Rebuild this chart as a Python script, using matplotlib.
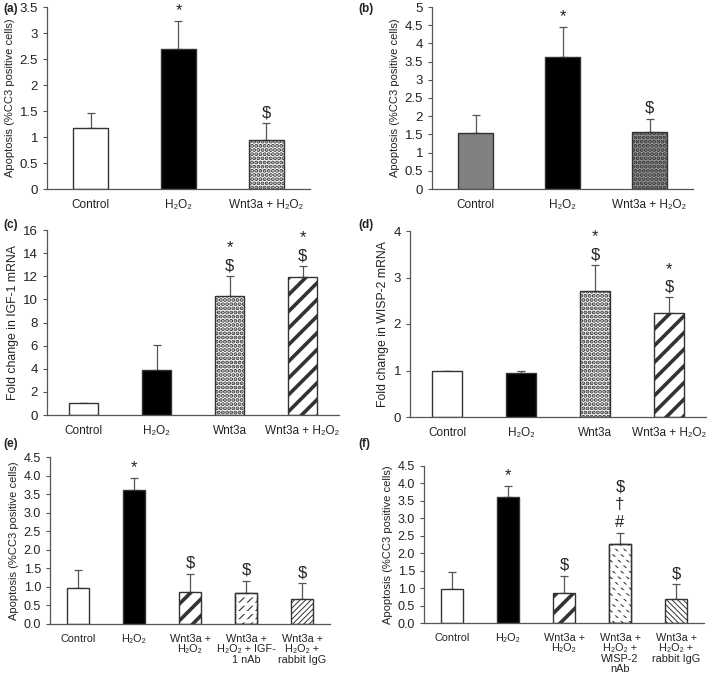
import matplotlib
matplotlib.use("Agg")
import matplotlib.pyplot as plt

plt.rcParams['font.family'] = ['Liberation Sans', 'DejaVu Sans']

H2O2 = 'H\u2082O\u2082'

# (a)
a_cats = ['Control', H2O2, 'Wnt3a + ' + H2O2]
a_mean = [1.17, 2.70, 0.95]
a_err = [0.29, 0.54, 0.32]
a_marks = ['', '*', '$']

# (b)
b_cats = ['Control', H2O2, 'Wnt3a + ' + H2O2]
b_mean = [1.55, 3.62, 1.57]
b_err = [0.48, 0.83, 0.36]
b_marks = ['', '*', '$']

# (c)
c_cats = ['Control', H2O2, 'Wnt3a', 'Wnt3a + ' + H2O2]
c_mean = [1.0, 3.85, 10.25, 11.95]
c_err = [0.0, 2.2, 1.75, 0.95]
c_marks = ['', '', '*\n$', '*\n$']

# (d)
d_cats = ['Control', H2O2, 'Wnt3a', 'Wnt3a + ' + H2O2]
d_mean = [1.0, 0.95, 2.70, 2.24]
d_err = [0.0, 0.05, 0.57, 0.33]
d_marks = ['', '', '*\n$', '*\n$']

# (e)
e_cats = ['Control', H2O2, 'Wnt3a +\n' + H2O2, 'Wnt3a +\n' + H2O2 + ' + IGF-\n1 nAb',
          'Wnt3a +\n' + H2O2 + ' +\nrabbit IgG']
e_mean = [0.97, 3.62, 0.85, 0.83, 0.68]
e_err = [0.48, 0.31, 0.51, 0.34, 0.43]
e_marks = ['', '*', '$', '$', '$']

# (f)
f_cats = ['Control', H2O2, 'Wnt3a +\n' + H2O2, 'Wnt3a +\n' + H2O2 + ' +\nWISP-2\nnAb',
          'Wnt3a +\n' + H2O2 + ' +\nrabbit IgG']
f_mean = [0.97, 3.62, 0.85, 2.26, 0.68]
f_err = [0.48, 0.31, 0.51, 0.32, 0.43]
f_marks = ['', '*', '$', '$\n\u2020\n#', '$']

EDGE = '#333333'
TXT = '#222222'

# fill styles: (facecolor, hatch, hatch linewidth, white cutter hatch)
WHITE = ('white', None, 0, None)
BLACK = ('black', None, 0, None)
GREY = ('#808080', None, 0, None)
DOTS = ('white', '....', 2.0, None)
DOTS_DARK = ('#9a9a9a', '....', 2.0, None)
STRIPES = ('white', '//', 2.6, None)
FINE = ('white', '//////', 0.7, None)
FINE_BACK = ('white', '\\\\\\\\\\\\', 0.7, None)
DASH_FWD = ('white', '////', 0.8, '--')
DASH_BACK = ('white', '\\\\\\\\', 0.8, '---')


def set_hlw(patch, lw):
    if hasattr(patch, 'set_hatch_linewidth'):
        patch.set_hatch_linewidth(lw)
    else:
        plt.rcParams['hatch.linewidth'] = lw


def panel(rect, label, label_xy, cats, mean, err, marks, fills, ylim, ystep,
          ylabel, fmt, fs, tfs, yfs):
    ax = fig.add_axes(rect)
    x = list(range(len(cats)))
    for i in x:
        fc, hatch, hlw, cut = fills[i]
        b = ax.bar(i, mean[i], width=0.4, color=fc, edgecolor=EDGE,
                   linewidth=1.0, hatch=hatch, zorder=2)[0]
        if hatch:
            set_hlw(b, hlw)
        if cut:
            c = ax.bar(i, mean[i], width=0.4, color='none', edgecolor='white',
                       linewidth=0, hatch=cut, zorder=3)[0]
            set_hlw(c, 2.2)
            ax.bar(i, mean[i], width=0.4, color='none', edgecolor=EDGE,
                   linewidth=1.0, zorder=4)
    ax.errorbar(x, mean, yerr=[[0] * len(x), err], fmt='none', ecolor='#555555',
                elinewidth=0.9, capsize=3, capthick=0.9, zorder=1)
    for i in x:
        if marks[i]:
            ax.annotate(marks[i], xy=(i, mean[i] + err[i]), xytext=(0, 2),
                        textcoords='offset points', ha='center', va='bottom',
                        fontsize=12, color=TXT, linespacing=1.25)
    ax.set_xlim(-0.5, len(cats) - 0.5)
    ax.set_ylim(0, ylim)
    n = int(round(ylim / ystep))
    ticks = [k * ystep for k in range(n + 1)]
    ax.set_yticks(ticks)
    ax.set_yticklabels([fmt(t) for t in ticks])
    ax.set_xticks(x)
    ax.set_xticklabels(cats, linespacing=1.05)
    ax.tick_params(axis='x', length=0, pad=7, labelsize=fs, colors=TXT)
    ax.tick_params(axis='y', length=3, width=0.8, colors='#555555',
                   labelcolor=TXT, labelsize=tfs)
    for s in ['top', 'right']:
        ax.spines[s].set_visible(False)
    for s in ['left', 'bottom']:
        ax.spines[s].set_color('#555555')
        ax.spines[s].set_linewidth(0.9)
    ax.set_ylabel(ylabel, fontsize=yfs, color=TXT, labelpad=3)
    fig.text(label_xy[0] / W, 1 - label_xy[1] / H, label, fontsize=8.5,
             fontweight='bold', ha='left', va='top', color=TXT)
    return ax


W, H = 709, 675
fig = plt.figure(figsize=(W / 100, H / 100), dpi=100)


def rect(x0, x1, y0, y1):
    return [x0 / W, 1 - y1 / H, (x1 - x0) / W, (y1 - y0) / H]


def fmt_g(t):
    return ('%g' % t)


def fmt_1(t):
    return '%.1f' % t


apo = 'Apoptosis (%CC3 positive cells)'

panel(rect(47, 310, 7, 189), '(a)', (3, 3), a_cats, a_mean, a_err, a_marks,
      [WHITE, BLACK, DOTS], 3.5, 0.5, apo, fmt_g, 8.5, 9.5, 8)
panel(rect(432, 693, 7, 189), '(b)', (358, 3), b_cats, b_mean, b_err, b_marks,
      [GREY, BLACK, DOTS_DARK], 5, 0.5, apo, fmt_g, 8.5, 9.5, 8)
panel(rect(47, 339, 230, 415), '(c)', (3, 219), c_cats, c_mean, c_err, c_marks,
      [WHITE, BLACK, DOTS, STRIPES], 16, 2, 'Fold change in IGF-1 mRNA', fmt_g,
      8.5, 9.5, 8.8)
panel(rect(410, 706, 231, 417), '(d)', (358, 219), d_cats, d_mean, d_err, d_marks,
      [WHITE, BLACK, DOTS, STRIPES], 4, 1, 'Fold change in WISP-2 mRNA', fmt_g,
      8.5, 9.5, 8.8)
panel(rect(50, 330, 457, 624), '(e)', (3, 438), e_cats, e_mean, e_err, e_marks,
      [WHITE, BLACK, STRIPES, DASH_FWD, FINE], 4.5, 0.5, apo, fmt_1, 7.8, 9, 8)
panel(rect(424, 704, 466, 623), '(f)', (358, 438), f_cats, f_mean, f_err, f_marks,
      [WHITE, BLACK, STRIPES, DASH_BACK, FINE_BACK], 4.5, 0.5, apo, fmt_1,
      7.8, 9, 8)

fig.savefig('out.png', dpi=100)
